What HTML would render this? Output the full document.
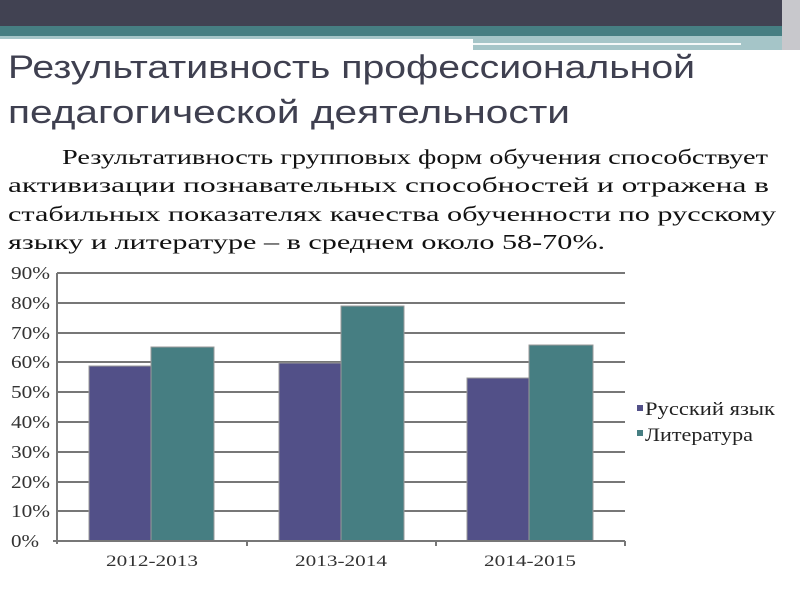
<!DOCTYPE html>
<html><head><meta charset="utf-8"><style>
body{margin:0;background:#fff}
svg{display:block}
</style></head><body>
<svg width="800" height="600" xmlns="http://www.w3.org/2000/svg">
<rect x="0" y="0" width="800" height="26" fill="#414252"/>
<rect x="0" y="26" width="782" height="10" fill="#467e82"/>
<rect x="0" y="36" width="473" height="3" fill="#a5c5c8"/>
<rect x="473" y="36" width="309" height="14" fill="#a5c5c8"/>
<rect x="473" y="43" width="268" height="2" fill="#f4f8f8"/>
<rect x="782" y="0" width="18" height="50" fill="#c8c8cc"/>
<g font-family="Liberation Sans, DejaVu Sans, sans-serif" font-size="32" fill="#3f4050">
<text x="8" y="78" textLength="687" lengthAdjust="spacingAndGlyphs">Результативность профессиональной</text>
<text x="8" y="123" textLength="562" lengthAdjust="spacingAndGlyphs">педагогической деятельности</text>
</g>
<g font-family="Liberation Serif, DejaVu Serif, serif" font-size="21" fill="#111">
<text x="62" y="164" textLength="706" lengthAdjust="spacingAndGlyphs">Результативность групповых форм обучения способствует</text>
<text x="8" y="192" textLength="761" lengthAdjust="spacingAndGlyphs">активизации познавательных способностей и отражена в</text>
<text x="8" y="221" textLength="768" lengthAdjust="spacingAndGlyphs">стабильных показателях качества обученности по русскому</text>
<text x="8" y="249" textLength="597" lengthAdjust="spacingAndGlyphs">языку и литературе – в среднем около 58-70%.</text>
</g>
<g stroke="#777" stroke-width="2">
<line x1="57" y1="273" x2="625" y2="273"/>
<line x1="57" y1="303" x2="625" y2="303"/>
<line x1="57" y1="333" x2="625" y2="333"/>
<line x1="57" y1="362" x2="625" y2="362"/>
<line x1="57" y1="392" x2="625" y2="392"/>
<line x1="57" y1="422" x2="625" y2="422"/>
<line x1="57" y1="452" x2="625" y2="452"/>
<line x1="57" y1="482" x2="625" y2="482"/>
<line x1="57" y1="511" x2="625" y2="511"/>
</g>
<g stroke="#999" stroke-width="1">
<rect x="89" y="366" width="62" height="175" fill="#525088"/>
<rect x="151" y="347" width="63" height="194" fill="#467e82"/>
<rect x="279" y="363" width="62" height="178" fill="#525088"/>
<rect x="341" y="306" width="63" height="235" fill="#467e82"/>
<rect x="467" y="378" width="62" height="163" fill="#525088"/>
<rect x="529" y="345" width="64" height="196" fill="#467e82"/>
</g>
<g stroke="#777" stroke-width="2">
<line x1="57" y1="273" x2="57" y2="544"/>
<line x1="53" y1="541" x2="625" y2="541"/>
<line x1="247" y1="541" x2="247" y2="546"/>
<line x1="436" y1="541" x2="436" y2="546"/>
<line x1="625" y1="541" x2="625" y2="546"/>
</g>
<g font-family="Liberation Serif, DejaVu Serif, serif" font-size="18" fill="#333">
<text x="11" y="279" textLength="39" lengthAdjust="spacingAndGlyphs">90%</text>
<text x="11" y="309" textLength="39" lengthAdjust="spacingAndGlyphs">80%</text>
<text x="11" y="339" textLength="39" lengthAdjust="spacingAndGlyphs">70%</text>
<text x="11" y="368" textLength="39" lengthAdjust="spacingAndGlyphs">60%</text>
<text x="11" y="398" textLength="39" lengthAdjust="spacingAndGlyphs">50%</text>
<text x="11" y="428" textLength="39" lengthAdjust="spacingAndGlyphs">40%</text>
<text x="11" y="458" textLength="39" lengthAdjust="spacingAndGlyphs">30%</text>
<text x="11" y="488" textLength="39" lengthAdjust="spacingAndGlyphs">20%</text>
<text x="11" y="517" textLength="39" lengthAdjust="spacingAndGlyphs">10%</text>
<text x="11" y="547" textLength="28" lengthAdjust="spacingAndGlyphs">0%</text>
</g>
<g font-family="Liberation Serif, DejaVu Serif, serif" font-size="16" fill="#333">
<text x="106" y="566" textLength="92" lengthAdjust="spacingAndGlyphs">2012-2013</text>
<text x="295" y="566" textLength="92" lengthAdjust="spacingAndGlyphs">2013-2014</text>
<text x="484" y="566" textLength="92" lengthAdjust="spacingAndGlyphs">2014-2015</text>
</g>
<rect x="637" y="405" width="6" height="6" fill="#525088"/>
<rect x="637" y="430" width="6" height="6" fill="#467e82"/>
<g font-family="Liberation Serif, DejaVu Serif, serif" font-size="19" fill="#222">
<text x="645" y="415" textLength="130" lengthAdjust="spacingAndGlyphs">Русский язык</text>
<text x="645" y="441" textLength="108" lengthAdjust="spacingAndGlyphs">Литература</text>
</g>
</svg>
</body></html>
